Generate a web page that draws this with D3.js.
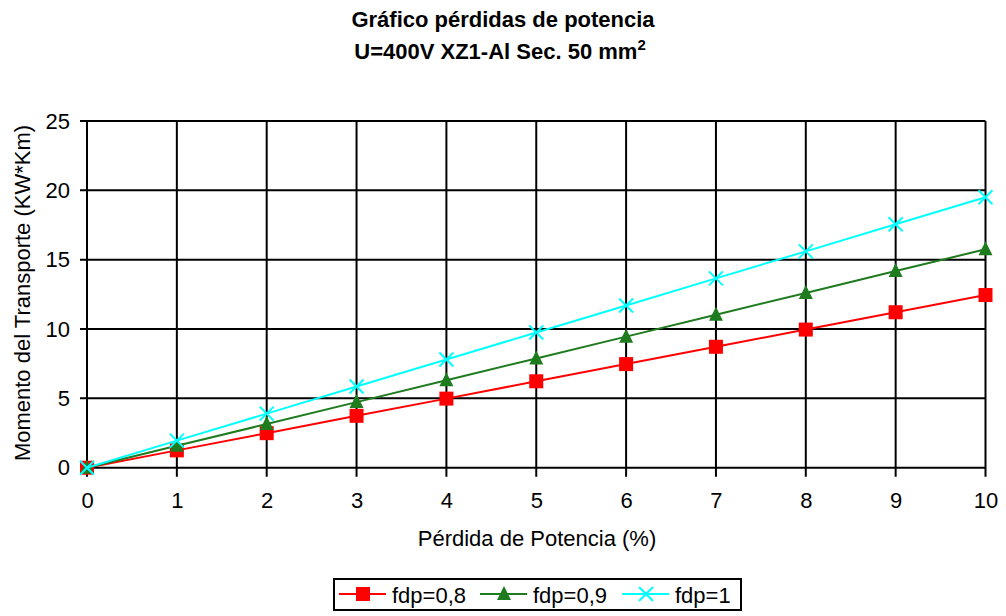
<!DOCTYPE html>
<html>
<head>
<meta charset="utf-8">
<script src="https://cdn.jsdelivr.net/npm/d3@7"></script>
<style>
  html, body { margin: 0; padding: 0; background: #fff; }
  svg { display: block; }
  text { font-family: "Liberation Sans", Arial, sans-serif; fill: #000; }
</style>
</head>
<body>
<svg id="chart" width="1006" height="616"></svg>
<script>
// Power loss (%) on the horizontal axis
const perdida = [0, 1, 2, 3, 4, 5, 6, 7, 8, 9, 10];

// Transport moment (kW*km) for each power factor
const fdp08 = [0, 1.25, 2.49, 3.74, 4.98, 6.23, 7.47, 8.72, 9.96, 11.21, 12.45];
const fdp09 = [0, 1.58, 3.15, 4.73, 6.30, 7.88, 9.45, 11.03, 12.60, 14.18, 15.75];
const fdp1  = [0, 1.95, 3.90, 5.85, 7.80, 9.75, 11.70, 13.65, 15.60, 17.55, 19.50];

const xTicks = [0, 1, 2, 3, 4, 5, 6, 7, 8, 9, 10];
const yTicks = [0, 5, 10, 15, 20, 25];

const seriesNames = ["fdp=0,8", "fdp=0,9", "fdp=1"];

const svg = d3.select("#chart");
const FS = 22;

const plot = { left: 87, right: 985.5, top: 121, bottom: 467.7 };

const x = d3.scaleLinear().domain([0, 10]).range([plot.left, plot.right]);
const y = d3.scaleLinear().domain([0, 25]).range([plot.bottom, plot.top]);

// Title
svg.append("text")
  .attr("x", 503).attr("y", 27)
  .attr("text-anchor", "middle")
  .style("font-size", FS + "px").style("font-weight", "bold")
  .text("Gráfico pérdidas de potencia");
const sub = svg.append("text")
  .attr("x", 500).attr("y", 59)
  .attr("text-anchor", "middle")
  .style("font-size", FS + "px").style("font-weight", "bold");
sub.append("tspan").text("U=400V XZ1-Al Sec. 50 mm");
sub.append("tspan").attr("dy", -9).style("font-size", "15px").text("2");

// Grid lines
const grid = svg.append("g").attr("stroke", "#000").attr("stroke-width", 2);
grid.selectAll("line.v").data(xTicks).join("line")
  .attr("class", "v")
  .attr("x1", d => x(d)).attr("x2", d => x(d))
  .attr("y1", plot.top).attr("y2", plot.bottom + 9);
grid.selectAll("line.h").data(yTicks).join("line")
  .attr("class", "h")
  .attr("y1", d => y(d)).attr("y2", d => y(d))
  .attr("x1", plot.left - 7).attr("x2", plot.right);

// Tick labels via d3 axes (tick lines come from the grid)
const xAxis = svg.append("g")
  .attr("transform", `translate(0,${plot.bottom})`)
  .call(d3.axisBottom(x).tickValues(xTicks).tickSize(0).tickPadding(25).tickFormat(d3.format("d")));
xAxis.select(".domain").remove();
xAxis.selectAll("text").style("font-size", FS + "px").style("font-family", "Liberation Sans, Arial, sans-serif");

const yAxis = svg.append("g")
  .attr("transform", `translate(${plot.left},0)`)
  .call(d3.axisLeft(y).tickValues(yTicks).tickSize(0).tickPadding(17).tickFormat(d3.format("d")));
yAxis.select(".domain").remove();
yAxis.selectAll("text").style("font-size", FS + "px").style("font-family", "Liberation Sans, Arial, sans-serif");

// Axis titles
svg.append("text")
  .attr("x", 537).attr("y", 546)
  .attr("text-anchor", "middle")
  .style("font-size", FS + "px")
  .text("Pérdida de Potencia (%)");
svg.append("text")
  .attr("transform", "translate(30,293) rotate(-90)")
  .attr("text-anchor", "middle")
  .style("font-size", FS + "px")
  .text("Momento del Transporte (KW*Km)");

// Series
const series = [
  { name: seriesNames[0], values: fdp08, color: "#ff0000", marker: "square" },
  { name: seriesNames[1], values: fdp09, color: "#1e7b1e", marker: "triangle" },
  { name: seriesNames[2], values: fdp1,  color: "#00ffff", marker: "x" }
];

const line = d3.line().x(d => x(d[0])).y(d => y(d[1]));

function drawMarker(g, type, color) {
  if (type === "square") {
    g.append("rect").attr("x", -7).attr("y", -7).attr("width", 14).attr("height", 14)
      .attr("fill", color);
  } else if (type === "triangle") {
    g.append("path").attr("d", "M0,-8 L7,6 L-7,6 Z").attr("fill", color);
  } else {
    g.append("path").attr("d", "M-7,-7 L7,7 M-7,7 L7,-7")
      .attr("stroke", color).attr("stroke-width", 2).attr("fill", "none");
  }
}

series.forEach(s => {
  const pts = perdida.map((p, i) => [p, s.values[i]]);
  svg.append("path")
    .datum(pts)
    .attr("d", line)
    .attr("fill", "none")
    .attr("stroke", s.color)
    .attr("stroke-width", 2);
  pts.forEach(p => {
    const g = svg.append("g").attr("transform", `translate(${x(p[0])},${y(p[1])})`);
    drawMarker(g, s.marker, s.color);
  });
});

// Legend
const legend = svg.append("g");
legend.append("rect")
  .attr("x", 334).attr("y", 579).attr("width", 407).attr("height", 31)
  .attr("fill", "#fff").attr("stroke", "#000").attr("stroke-width", 2);

const legendX = [339, 480, 622];
series.forEach((s, i) => {
  const lx = legendX[i];
  legend.append("line")
    .attr("x1", lx).attr("x2", lx + 47)
    .attr("y1", 594).attr("y2", 594)
    .attr("stroke", s.color).attr("stroke-width", 2);
  const g = legend.append("g").attr("transform", `translate(${lx + 24},594)`);
  drawMarker(g, s.marker, s.color);
  legend.append("text")
    .attr("x", lx + 53).attr("y", 603)
    .style("font-size", FS + "px")
    .text(s.name);
});
</script>
</body>
</html>
